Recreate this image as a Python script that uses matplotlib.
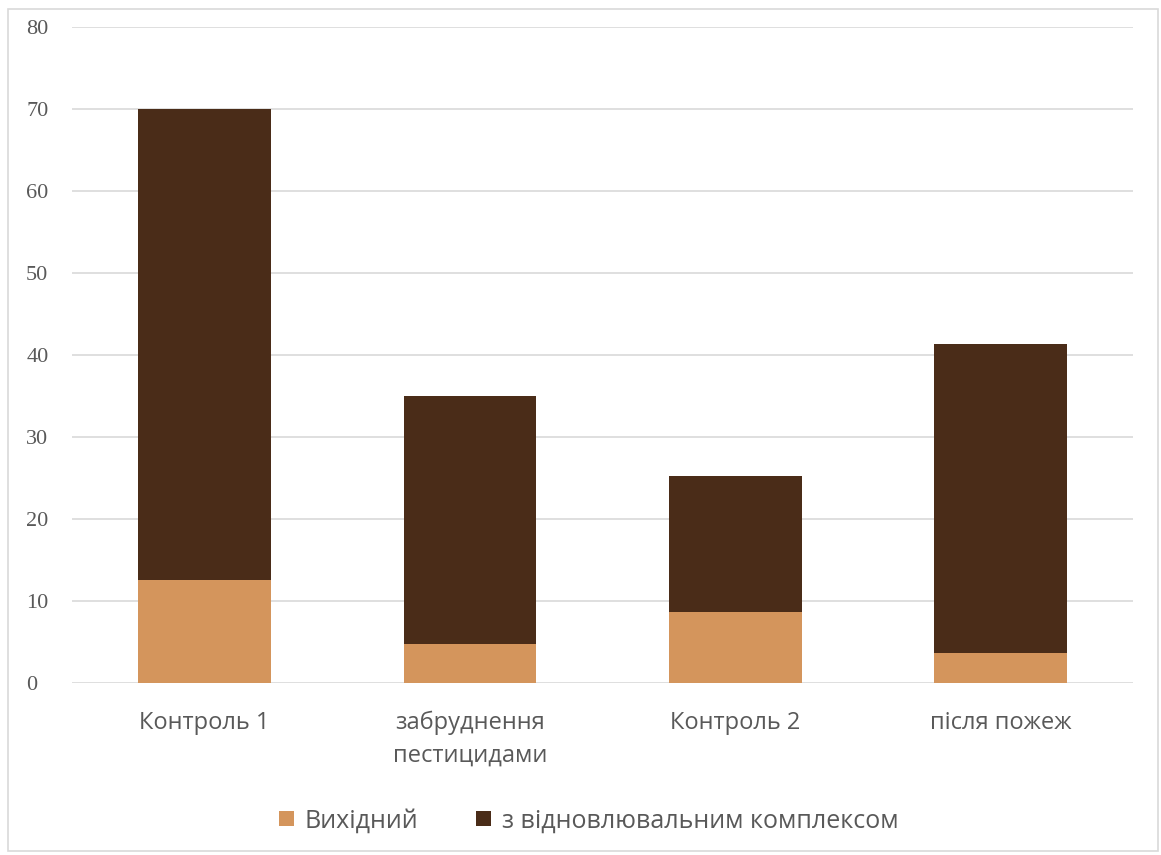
import matplotlib
matplotlib.use("Agg")
import matplotlib.pyplot as plt
from matplotlib.patches import Rectangle

categories = ["Контроль 1", "забруднення\nпестицидами", "Контроль 2", "після пожеж"]
base_values = [12.5, 4.8, 8.7, 3.7]
restore_values = [57.5, 30.2, 16.5, 37.6]
series_names = ["Вихідний", "з відновлювальним комплексом"]
yticks = [0, 10, 20, 30, 40, 50, 60, 70, 80]

wood = "#D4955C"
marble = "#4A2C18"
txt = "#595959"

fig = plt.figure(figsize=(11.61, 8.55), dpi=100)
fig.patches.append(Rectangle((0.007, 0.005), 0.99, 0.985, transform=fig.transFigure,
                             fill=False, edgecolor="#D9D9D9", linewidth=1.2))
ax = fig.add_axes([0.062, 0.2012, 0.914, 0.7672])

x = list(range(len(categories)))
ax.bar(x, base_values, width=0.5, color=wood, label=series_names[0], zorder=3)
ax.bar(x, restore_values, width=0.5, bottom=base_values, color=marble,
       label=series_names[1], zorder=3)

ax.set_xlim(-0.5, len(categories) - 0.5)
ax.set_ylim(0, 80)
ax.set_yticks(yticks)
ax.set_yticklabels([str(v) for v in yticks], family="Liberation Serif", fontsize=16, color=txt)
ax.set_xticks(x)
ax.set_xticklabels(categories, family="Open Sans", fontsize=17, color=txt, linespacing=1.5)
ax.tick_params(axis="both", length=0)
ax.tick_params(axis="x", pad=20)
ax.tick_params(axis="y", pad=33)
for lbl in ax.get_yticklabels():
    lbl.set_horizontalalignment("left")
ax.grid(axis="y", color="#D9D9D9", linewidth=1.2, zorder=0)
for s in ax.spines.values():
    s.set_visible(False)

leg = fig.legend(loc="center", bbox_to_anchor=(0.507, 0.040), ncol=2, frameon=False,
                 prop={"family": "Open Sans", "size": 18}, handlelength=0.6, handleheight=0.6,
                 handletextpad=0.45, columnspacing=2.3)
for t in leg.get_texts():
    t.set_color(txt)

fig.savefig("out.png", dpi=100)
